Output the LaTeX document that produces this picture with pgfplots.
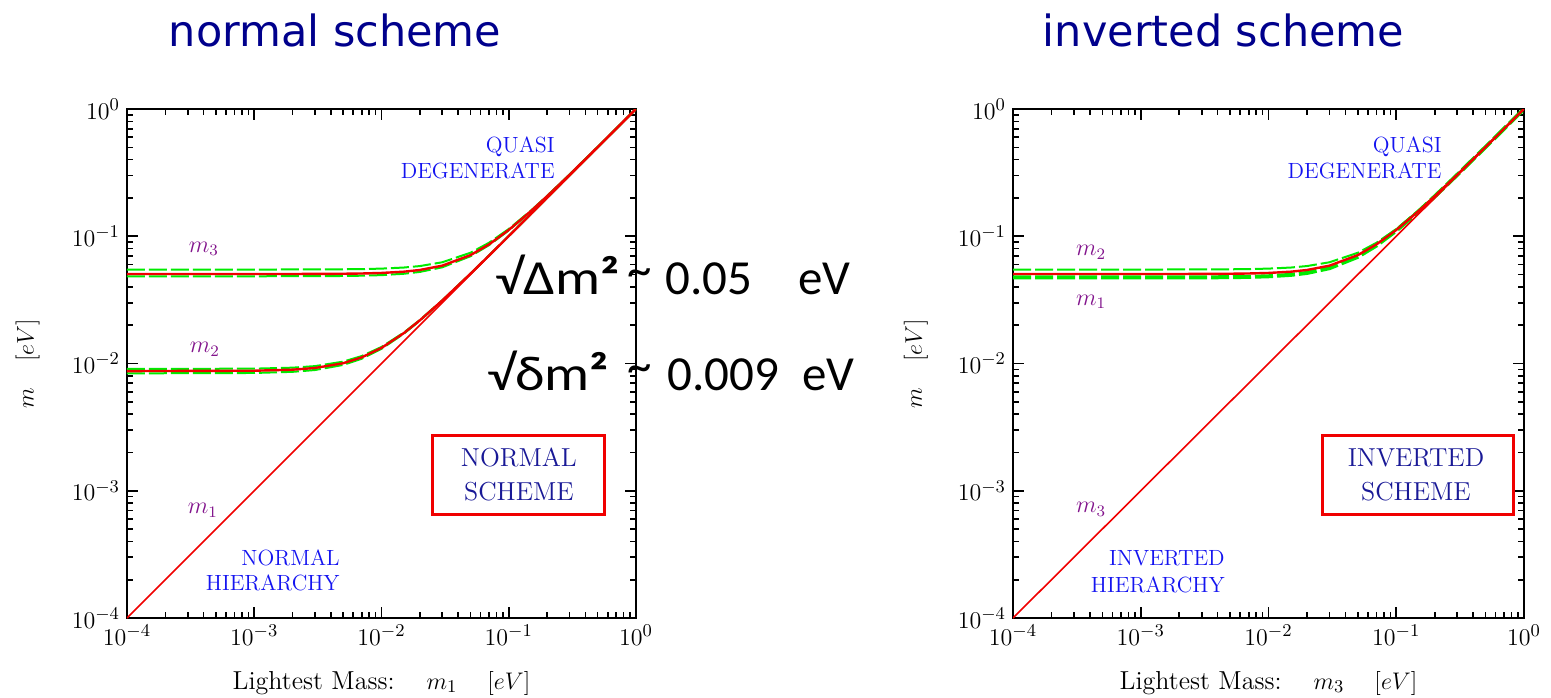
\documentclass[border=0pt]{standalone}
\usepackage{fontspec}
\usepackage{graphicx}
\usepackage{pgfplots}
\pgfplotsset{compat=1.18}
\newfontfamily\calfont{Carlito}
\newfontfamily\dejafont{DejaVu Sans}
\definecolor{titleblue}{RGB}{0,0,140}
\definecolor{lblpurple}{RGB}{130,20,140}
\definecolor{txtblue}{RGB}{20,20,240}
\definecolor{boxtxt}{RGB}{25,25,150}
\definecolor{bandgreen}{RGB}{0,235,0}
\definecolor{curvered}{RGB}{240,0,0}

\tikzset{
  nsband/.style={bandgreen, line width=1pt, dash pattern=on 9pt off 2pt},
  nswideband/.style={bandgreen, line width=2pt, dash pattern=on 9pt off 2pt},
  nscentral/.style={curvered, line width=1.2pt},
  nsdiag/.style={curvered, line width=0.8pt},
  nsmlabel/.style={text=lblpurple, font=\fontsize{12}{14}\selectfont},
  nsregion/.style={text=txtblue, font=\fontsize{11}{13}\selectfont, anchor=base east, inner sep=0pt},
  nsboxlabel/.style={text=boxtxt, font=\fontsize{13}{15}\selectfont, anchor=base, inner sep=0pt},
  nssplit/.style={anchor=base west, inner sep=0pt, font=\calfont\fontsize{24.5}{28}\selectfont},
}

\begin{document}
\begin{tikzpicture}
\useasboundingbox (0,0) rectangle (775.5pt,348.5pt);

% ---------------- normal ordering ----------------
\begin{axis}[
    xmode=log, ymode=log, scale only axis,
    width=254.5pt, height=254.5pt,
    at={(63.5pt,39.5pt)}, anchor=south west,
    xmin=1e-4, xmax=1, ymin=1e-4, ymax=1,
    xtick={1e-4,1e-3,1e-2,1e-1,1},
    ytick={1e-4,1e-3,1e-2,1e-1,1},
    axis line style={line width=1pt},
    tick style={black, line width=0.8pt},
    major tick length=5.5pt, minor tick length=3pt,
    tick align=inside,
    tick label style={font=\fontsize{12.5}{14}\selectfont},
    label style={font=\fontsize{13}{15}\selectfont},
    ylabel style={at={(axis description cs:-0.195,0.5)}, anchor=center},
    xlabel style={at={(axis description cs:0.5,-0.128)}, anchor=center},
    ylabel={$m\quad[eV]$},
    xlabel={Lightest Mass:\hspace{16pt}$m_1$\hspace{15pt}$[eV]$}]
% m3 band and central value
\addplot[nsband] coordinates {(1e-4,0.054773) (1e-3,0.054781) (2e-3,0.054809) (3e-3,0.054854) (5e-3,0.055000) (7e-3,0.055218) (0.01,0.055678) (0.015,0.056789) (0.02,0.058310) (0.03,0.062450) (0.05,0.074162) (0.07,0.088882) (0.1,0.114018) (0.15,0.159687) (0.2,0.207364) (0.3,0.304959) (0.5,0.502991) (0.7,0.702140) (1,1.001499)};
\addplot[nsband] coordinates {(1e-4,0.048477) (1e-3,0.048487) (2e-3,0.048518) (3e-3,0.048570) (5e-3,0.048734) (7e-3,0.048980) (0.01,0.049497) (0.015,0.050744) (0.02,0.052440) (0.03,0.057009) (0.05,0.069642) (0.07,0.085147) (0.1,0.111131) (0.15,0.157639) (0.2,0.205791) (0.3,0.303891) (0.5,0.502345) (0.7,0.701676) (1,1.001174)};
\addplot[nscentral] coordinates {(1e-4,0.050498) (1e-3,0.050507) (2e-3,0.050537) (3e-3,0.050587) (5e-3,0.050744) (7e-3,0.050980) (0.01,0.051478) (0.015,0.052678) (0.02,0.054314) (0.03,0.058737) (0.05,0.071063) (0.07,0.086313) (0.1,0.112027) (0.15,0.158272) (0.2,0.206277) (0.3,0.304220) (0.5,0.502543) (0.7,0.701819) (1,1.001274)};
% m2 band and central value
\addplot[nsband] coordinates {(1e-4,0.009056) (1e-3,0.009110) (2e-3,0.009274) (3e-3,0.009539) (5e-3,0.010344) (7e-3,0.011446) (0.01,0.013491) (0.015,0.017521) (0.02,0.021954) (0.03,0.031337) (0.05,0.050813) (0.07,0.070583) (0.1,0.100409) (0.15,0.150273) (0.2,0.200205) (0.3,0.300137) (0.5,0.500082) (0.7,0.700059) (1,1.000041)};
\addplot[nsband] coordinates {(1e-4,0.008367) (1e-3,0.008426) (2e-3,0.008602) (3e-3,0.008888) (5e-3,0.009747) (7e-3,0.010909) (0.01,0.013038) (0.015,0.017176) (0.02,0.021679) (0.03,0.031145) (0.05,0.050695) (0.07,0.070498) (0.1,0.100349) (0.15,0.150233) (0.2,0.200175) (0.3,0.300117) (0.5,0.500070) (0.7,0.700050) (1,1.000035)};
\addplot[nscentral] coordinates {(1e-4,0.008718) (1e-3,0.008775) (2e-3,0.008944) (3e-3,0.009220) (5e-3,0.010050) (7e-3,0.011180) (0.01,0.013266) (0.015,0.017349) (0.02,0.021817) (0.03,0.031241) (0.05,0.050754) (0.07,0.070541) (0.1,0.100379) (0.15,0.150253) (0.2,0.200190) (0.3,0.300127) (0.5,0.500076) (0.7,0.700054) (1,1.000038)};
% lightest state m1
\addplot[nsdiag] coordinates {(1e-4,1e-4) (1,1)};

\node[nsmlabel] at (rel axis cs:0.151,0.725) {$m_3$};
\node[nsmlabel] at (rel axis cs:0.153,0.528) {$m_2$};
\node[nsmlabel] at (rel axis cs:0.149,0.212) {$m_1$};
\node[nsregion] at (rel axis cs:0.841,0.9155) {QUASI};
\node[nsregion] at (rel axis cs:0.841,0.864) {DEGENERATE};
\node[nsregion] at (rel axis cs:0.4185,0.104) {NORMAL};
\node[nsregion] at (rel axis cs:0.4185,0.055) {HIERARCHY};
\draw[curvered, line width=1.5pt] (rel axis cs:0.601,0.2024) rectangle (rel axis cs:0.939,0.3595);
\node[nsboxlabel] at (rel axis cs:0.770,0.2967) {NORMAL};
\node[nsboxlabel] at (rel axis cs:0.770,0.2318) {SCHEME};
\end{axis}

% ---------------- inverted ordering ----------------
\begin{axis}[
    xmode=log, ymode=log, scale only axis,
    width=255.5pt, height=254.5pt,
    at={(506.5pt,39.5pt)}, anchor=south west,
    xmin=1e-4, xmax=1, ymin=1e-4, ymax=1,
    xtick={1e-4,1e-3,1e-2,1e-1,1},
    ytick={1e-4,1e-3,1e-2,1e-1,1},
    axis line style={line width=1pt},
    tick style={black, line width=0.8pt},
    major tick length=5.5pt, minor tick length=3pt,
    tick align=inside,
    tick label style={font=\fontsize{12.5}{14}\selectfont},
    label style={font=\fontsize{13}{15}\selectfont},
    ylabel style={at={(axis description cs:-0.19,0.5)}, anchor=center},
    xlabel style={at={(axis description cs:0.5,-0.128)}, anchor=center},
    ylabel={$m\quad[eV]$},
    xlabel={Lightest Mass:\hspace{16pt}$m_3$\hspace{15pt}$[eV]$}]
% m1, m2 band and central value
\addplot[nsband] coordinates {(1e-4,0.054773) (1e-3,0.054781) (2e-3,0.054809) (3e-3,0.054854) (5e-3,0.055000) (7e-3,0.055218) (0.01,0.055678) (0.015,0.056789) (0.02,0.058310) (0.03,0.062450) (0.05,0.074162) (0.07,0.088882) (0.1,0.114018) (0.15,0.159687) (0.2,0.207364) (0.3,0.304959) (0.5,0.502991) (0.7,0.702140) (1,1.001499)};
\addplot[nswideband] coordinates {(1e-4,0.047434) (1e-3,0.047445) (2e-3,0.047476) (3e-3,0.047529) (5e-3,0.047697) (7e-3,0.047948) (0.01,0.048477) (0.015,0.049749) (0.02,0.051478) (0.03,0.056125) (0.05,0.068920) (0.07,0.084558) (0.1,0.110680) (0.15,0.157321) (0.2,0.205548) (0.3,0.303727) (0.5,0.502245) (0.7,0.701605) (1,1.001124)};
\addplot[nscentral] coordinates {(1e-4,0.050498) (1e-3,0.050507) (2e-3,0.050537) (3e-3,0.050587) (5e-3,0.050744) (7e-3,0.050980) (0.01,0.051478) (0.015,0.052678) (0.02,0.054314) (0.03,0.058737) (0.05,0.071063) (0.07,0.086313) (0.1,0.112027) (0.15,0.158272) (0.2,0.206277) (0.3,0.304220) (0.5,0.502543) (0.7,0.701819) (1,1.001274)};
% lightest state m3
\addplot[nsdiag] coordinates {(1e-4,1e-4) (1,1)};

\node[nsmlabel] at (rel axis cs:0.153,0.719) {$m_2$};
\node[nsmlabel] at (rel axis cs:0.153,0.621) {$m_1$};
\node[nsmlabel] at (rel axis cs:0.153,0.214) {$m_3$};
\node[nsregion] at (rel axis cs:0.8395,0.9155) {QUASI};
\node[nsregion] at (rel axis cs:0.8395,0.864) {DEGENERATE};
\node[nsregion] at (rel axis cs:0.415,0.104) {INVERTED};
\node[nsregion] at (rel axis cs:0.415,0.051) {HIERARCHY};
\draw[curvered, line width=1.5pt] (rel axis cs:0.6047,0.2024) rectangle (rel axis cs:0.9785,0.3595);
\node[nsboxlabel] at (rel axis cs:0.7886,0.2967) {INVERTED};
\node[nsboxlabel] at (rel axis cs:0.7886,0.2318) {SCHEME};
\end{axis}

% titles
\node[anchor=base, inner sep=0pt, text=titleblue, font=\dejafont\fontsize{21.5}{24}\selectfont] at (167.5pt,325pt) {normal scheme};
\node[anchor=base, inner sep=0pt, text=titleblue, font=\dejafont\fontsize{21.5}{24}\selectfont] at (611.75pt,325pt) {inverted scheme};

% mass splittings
\node[nssplit] at (247.5pt,201pt) {\scalebox{1.15}[1]{√Δm{\bfseries ²}}};
\node[nssplit] at (313.5pt,201pt) {\raisebox{4pt}{\textasciitilde}};
\node[nssplit] at (332.5pt,201pt) {0.05};
\node[nssplit] at (399pt,201pt) {eV};
\node[nssplit] at (243.5pt,153.5pt) {\scalebox{1.15}[1]{√δm{\bfseries ²}}};
\node[nssplit] at (313.5pt,153.5pt) {\raisebox{4pt}{\textasciitilde}};
\node[nssplit] at (333.5pt,153.5pt) {0.009};
\node[nssplit] at (401pt,153.5pt) {eV};
\end{tikzpicture}
\end{document}
